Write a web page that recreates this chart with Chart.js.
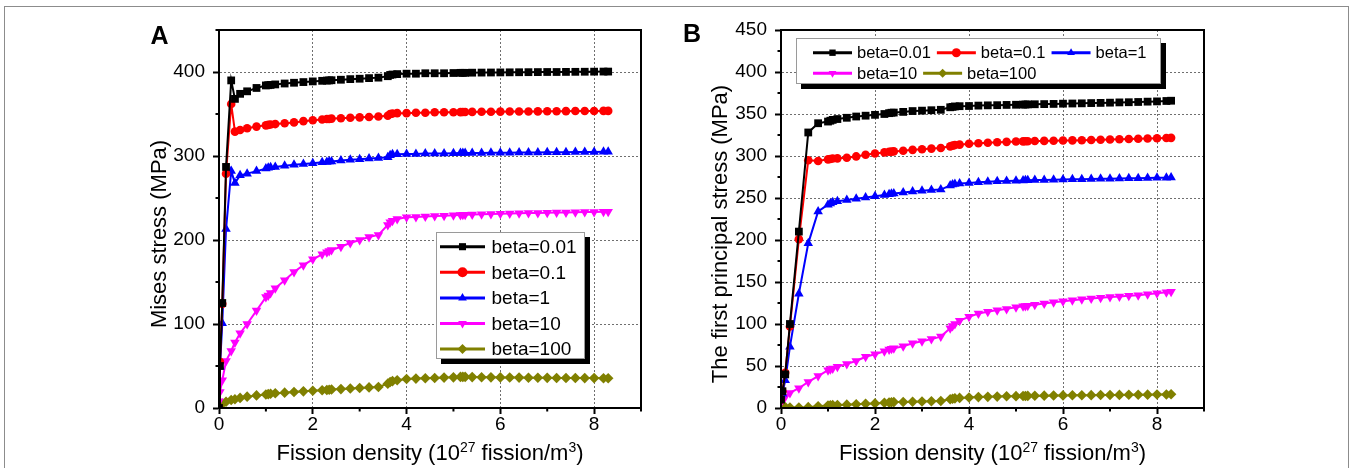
<!DOCTYPE html>
<html>
<head>
<meta charset="utf-8">
<script src="https://cdn.jsdelivr.net/npm/chart.js@4.4.1/dist/chart.umd.min.js"></script>
<style>
    html, body { margin: 0; padding: 0; background: #fff; }
    #wrap { position: relative; width: 1352px; height: 468px; overflow: hidden; }
    #frame { position: absolute; left: 4px; top: 6px; width: 1345px; height: 520px;
             border: 1px solid #8c8c8c; box-sizing: border-box; }
    canvas { position: absolute; top: 0; }
    #chartA { left: 0; }
    #chartB { left: 676px; }
</style>
</head>
<body>
<div id="wrap">
    <div id="frame"></div>
    <canvas id="chartA" width="676" height="468"></canvas>
    <canvas id="chartB" width="676" height="468"></canvas>
</div>
<script>
// =========================
// Data
// =========================

const betaLabels = ["beta=0.01", "beta=0.1", "beta=1", "beta=10", "beta=100"];

// Panel A - Mises stress (MPa)
const fissionA = [
    0, 0.02, 0.07, 0.15, 0.26, 0.34, 0.45, 0.6, 0.8, 1.0,
    1.05, 1.1, 1.2, 1.4, 1.6, 1.8, 2.0, 2.2, 2.3, 2.35,
    2.4, 2.6, 2.8, 3.0, 3.2, 3.4, 3.6, 3.65, 3.7, 3.8,
    4.0, 4.2, 4.4, 4.6, 4.8, 5.0, 5.15, 5.2, 5.25, 5.4,
    5.6, 5.8, 6.0, 6.2, 6.4, 6.6, 6.8, 7.0, 7.2, 7.4,
    7.6, 7.8, 8.0, 8.2, 8.3
];
const misesBeta001 = [
    0, 50, 125, 287, 390, 368, 374, 377, 381, 384,
    384.3, 384.6, 385.2, 386.3, 387.2, 388, 388.8, 389.5, 389.8, 390,
    390.2, 390.8, 391.5, 392, 392.7, 393.3, 395, 396.5, 397, 397.5,
    398, 398, 398.5, 398.5, 398.5, 398.8, 399, 399, 399, 399.2,
    399.3, 399.4, 399.5, 399.6, 399.7, 399.8, 399.9, 400, 400, 400.1,
    400.2, 400.3, 400.4, 400.5, 400.5
];
const misesBeta01 = [
    0, 55, 124, 279, 362, 329, 331, 333, 335, 336.5,
    337, 337.5, 338, 339, 340, 341.5, 342.5, 343.5, 344, 344,
    344.5, 345, 345.5, 346, 346.5, 347, 348, 350, 350.5, 351,
    351, 351.5, 351.5, 352, 352, 352, 352.2, 352.3, 352.3, 352.5,
    352.6, 352.7, 352.8, 352.9, 353, 353, 353.1, 353.2, 353.3, 353.4,
    353.5, 353.5, 353.6, 353.7, 353.7
];
const misesBeta1 = [
    0, 49, 101, 213, 282, 268, 277, 279, 282, 285,
    286, 286.5, 287, 288.5, 289.5, 290.5, 291.5, 292.5, 293, 293.5,
    293.5, 294.5, 295.5, 296, 297, 297.5, 298.5, 301, 302, 302,
    302.5, 302.5, 303, 303, 303, 303.2, 303.5, 303.5, 303.5, 303.6,
    303.7, 303.8, 304, 304, 304.1, 304.2, 304.3, 304.4, 304.5, 304.6,
    304.7, 304.8, 304.9, 305, 305
];
const misesBeta10 = [
    8, 19, 33, 56, 68, 78, 89, 100, 116, 132,
    134, 137, 142.5, 152, 162, 170, 177, 183, 185.5, 187,
    188, 192, 196.5, 200, 203.5, 206, 218, 221, 223, 225,
    227, 227.5, 228, 228.5, 229, 229.5, 229.8, 230, 230, 230.3,
    230.6, 231, 231.2, 231.5, 231.7, 232, 232.2, 232.4, 232.6, 232.8,
    233, 233.2, 233.4, 233.6, 233.7
];
const misesBeta100 = [
    2, 3.5, 5, 7.5, 9.5, 10.5, 12, 13.5, 15, 16,
    16.5, 17, 17.5, 18.3, 19, 19.8, 20.5, 21.2, 21.5, 21.8,
    22, 22.5, 23.2, 23.8, 24.5, 25, 29, 31, 32, 33,
    34.5, 35, 35.5, 35.8, 36.2, 36.5, 37, 37, 37, 36.8,
    36.6, 36.5, 36.4, 36.3, 36.2, 36.1, 36, 35.9, 35.8, 35.7,
    35.7, 35.6, 35.6, 35.5, 35.5
];

// Panel B - first principal stress (MPa)
const fissionB = [
    0, 0.03, 0.09, 0.19, 0.38, 0.58, 0.79, 1.0,
    1.05, 1.1, 1.2, 1.4, 1.6, 1.8, 2.0, 2.2, 2.3, 2.35,
    2.4, 2.6, 2.8, 3.0, 3.2, 3.4, 3.6, 3.65, 3.7, 3.8,
    4.0, 4.2, 4.4, 4.6, 4.8, 5.0, 5.15, 5.2, 5.25, 5.4,
    5.6, 5.8, 6.0, 6.2, 6.4, 6.6, 6.8, 7.0, 7.2, 7.4,
    7.6, 7.8, 8.0, 8.2, 8.3
];
const principalBeta001 = [
    10, 20, 40, 100, 210, 328, 339, 341,
    342, 343, 344, 345.5, 347, 348, 349, 350, 351, 351.5,
    351.7, 352.5, 353.5, 354, 354.5, 355, 358, 358.5, 359, 359.3,
    359.5, 360, 360.3, 360.5, 360.8, 361, 361.2, 361.3, 361.4, 361.6,
    361.8, 362, 362.3, 362.5, 362.7, 363, 363.2, 363.5, 363.8, 364,
    364.3, 364.7, 365, 365.5, 365.8
];
const principalBeta01 = [
    10, 20, 42, 97, 201, 295, 294, 296,
    296.5, 297, 297.2, 298, 299.5, 301.5, 303, 304.3, 305, 305.2,
    305.5, 306.3, 307.3, 308, 308.8, 309.5, 311.5, 312.3, 313, 313.5,
    314.5, 315.2, 315.8, 316.3, 316.8, 317.2, 317.4, 317.5, 317.6, 317.8,
    318, 318.2, 318.4, 318.6, 318.8, 319, 319.3, 319.6, 319.9, 320.2,
    320.5, 320.8, 321.1, 321.4, 321.6
];
const principalBeta1 = [
    15, 17, 33, 73, 136, 196, 234, 242,
    243.5, 245, 246, 247.5, 249, 250.5, 252, 253.5, 254.5, 255,
    255.3, 256.5, 257.8, 258.7, 259.5, 260, 265, 266, 266.8, 267.3,
    268, 268.7, 269.3, 269.8, 270.2, 270.6, 270.9, 271, 271.1, 271.3,
    271.5, 271.7, 272, 272.2, 272.4, 272.6, 272.8, 273, 273.2, 273.4,
    273.6, 273.8, 274, 274.2, 274.4
];
const principalBeta10 = [
    8, 9.5, 13, 18, 23.5, 31, 38, 45,
    46, 47, 49, 52.5, 56, 61, 64, 67.5, 69.5, 70.5,
    71, 73.5, 77, 79.5, 82, 85, 95, 97.5, 100, 104,
    108.5, 112.5, 114.5, 116.5, 118, 120, 121, 121.3, 121.6, 123,
    124.3, 125.8, 127, 128.3, 129.5, 130.5, 131.3, 132, 132.7, 133.5,
    134.3, 135.3, 136.5, 137.7, 138.5
];
const principalBeta100 = [
    1, 1, 1, 0.5, 0.5, 1, 2, 3,
    3.2, 3.4, 3.6, 4, 4.5, 5, 5.5, 6.2, 6.6, 6.8,
    7, 7.2, 7.5, 7.7, 8, 8.3, 10.5, 11, 11.5, 12,
    12.5, 13, 13.3, 13.6, 13.9, 14.1, 14.3, 14.3, 14.4, 14.5,
    14.7, 14.8, 15, 15.1, 15.2, 15.3, 15.4, 15.5, 15.6, 15.7,
    15.8, 15.9, 16, 16.1, 16.3
];

// =========================
// Styles
// =========================

const FONT = '"Liberation Sans", Arial, Helvetica, sans-serif';
const betaColors = ["#000000", "#ff0000", "#0000ff", "#ff00ff", "#808000"];
const betaMarkers = ["rect", "circle", "triangle", "triangle", "rectRot"];
const betaRotation = [0, 0, 0, 180, 0];
const betaRadius = [5.5, 4.3, 5.5, 5.5, 5.3];

function buildDatasets(xs, series) {
    return series.map((ys, i) => ({
        label: betaLabels[i],
        data: xs.map((x, k) => ({ x: x, y: ys[k] })),
        borderColor: betaColors[i],
        backgroundColor: betaColors[i],
        borderWidth: 2,
        pointStyle: betaMarkers[i],
        pointRotation: betaRotation[i],
        pointRadius: betaRadius[i],
        pointBorderWidth: 0,
        pointHoverRadius: betaRadius[i],
        showLine: true,
        tension: 0
    }));
}

// =========================
// Plugins
// =========================

function strokeLine(ctx, x1, y1, x2, y2) {
    ctx.beginPath();
    ctx.moveTo(x1, y1);
    ctx.lineTo(x2, y2);
    ctx.stroke();
}

// frame round the plot area + short minor ticks
const frameAndMinor = {
    id: "frameAndMinor",
    afterDraw(chart, args, o) {
        const ctx = chart.ctx;
        const a = chart.chartArea;
        const xs = chart.scales.x;
        const ys = chart.scales.y;
        ctx.save();
        ctx.strokeStyle = "#000";
        ctx.lineWidth = 2;
        ctx.strokeRect(a.left, a.top, a.right - a.left, a.bottom - a.top);
        xs.ticks.forEach(t => {
            if (t.value % o.xMajor !== 0) {
                const px = xs.getPixelForValue(t.value);
                strokeLine(ctx, px, a.bottom, px, a.bottom + 3.5);
            }
        });
        ys.ticks.forEach(t => {
            if (t.value % o.yMajor !== 0) {
                const py = ys.getPixelForValue(t.value);
                strokeLine(ctx, a.left, py, a.left - 3.5, py);
            }
        });
        ctx.restore();
    }
};

// axis titles (x title has superscripts) and panel letter
const titles = {
    id: "titles",
    afterDraw(chart, args, o) {
        const ctx = chart.ctx;
        const a = chart.chartArea;
        ctx.save();
        ctx.fillStyle = "#000";
        ctx.textBaseline = "alphabetic";

        // panel letter
        ctx.font = "bold 25px " + FONT;
        ctx.textAlign = "left";
        ctx.fillText(o.letter, o.letterX, o.letterY);

        // y title
        ctx.font = "22px " + FONT;
        ctx.save();
        ctx.translate(o.yTitleX, o.yTitleY);
        ctx.rotate(-Math.PI / 2);
        ctx.textAlign = "center";
        ctx.fillText(o.yTitle, 0, 0);
        ctx.restore();

        // x title
        const parts = o.xTitle;
        let total = 0;
        parts.forEach(p => {
            ctx.font = (p.sup ? "14px " : "22px ") + FONT;
            p.w = ctx.measureText(p.t).width;
            total += p.w;
        });
        let x = (a.left + a.right) / 2 - total / 2;
        ctx.textAlign = "left";
        parts.forEach(p => {
            ctx.font = (p.sup ? "14px " : "22px ") + FONT;
            ctx.fillText(p.t, x, p.sup ? o.xTitleY - 8 : o.xTitleY);
            x += p.w;
        });
        ctx.restore();
    }
};

// boxed legend with a black drop shadow
const boxLegend = {
    id: "boxLegend",
    afterDraw(chart, args, o) {
        const ctx = chart.ctx;
        ctx.save();
        ctx.fillStyle = "#000";
        ctx.fillRect(o.left + o.shadow, o.top + o.shadow, o.width, o.height);
        ctx.fillStyle = "#fff";
        ctx.fillRect(o.left, o.top, o.width, o.height);
        ctx.strokeStyle = "#9a9a9a";
        ctx.lineWidth = 1;
        ctx.strokeRect(o.left + 0.5, o.top + 0.5, o.width - 1, o.height - 1);

        ctx.font = o.fontSize + "px " + FONT;
        ctx.textBaseline = "middle";
        ctx.textAlign = "left";
        let x = o.startX;
        let row = 0;
        chart.data.datasets.forEach(ds => {
            const tw = ctx.measureText(ds.label).width;
            const w = o.lineLen + o.textGap + tw;
            if (x !== o.startX && x + w > o.maxRight) {
                row++;
                x = o.startX;
            }
            const y = o.firstRowY + row * o.rowGap;
            ctx.strokeStyle = ds.borderColor;
            ctx.lineWidth = o.lineWidth;
            strokeLine(ctx, x, y, x + o.lineLen, y);
            ctx.fillStyle = ds.backgroundColor;
            Chart.helpers.drawPoint(ctx, {
                pointStyle: ds.pointStyle,
                rotation: ds.pointRotation,
                radius: o.markerRadius,
                borderWidth: 0
            }, x + o.lineLen / 2, y);
            ctx.fillStyle = "#000";
            ctx.fillText(ds.label, x + o.lineLen + o.textGap, y + 1);
            x += w + o.itemGap;
        });
        ctx.restore();
    }
};

// =========================
// Chart factory
// =========================

function makeScales(xMax, xMajor, yMax, yStep, yMajor, yWidth) {
    const tickFont = { family: FONT, size: 19, lineHeight: 1 };
    return {
        x: {
            type: "linear",
            min: 0,
            max: xMax,
            ticks: {
                stepSize: 1,
                autoSkip: false,
                maxRotation: 0,
                color: "#000",
                font: tickFont,
                padding: 1,
                callback: v => (v % xMajor === 0 ? String(v) : "")
            },
            grid: {
                lineWidth: 1,
                color: c => (c.tick && c.tick.value % xMajor === 0 && c.tick.value > 0 && c.tick.value < xMax)
                    ? "#6f6f6f" : "rgba(0,0,0,0)",
                tickColor: c => (c.tick && c.tick.value % xMajor === 0) ? "#000" : "rgba(0,0,0,0)",
                tickLength: 6,
                tickWidth: 2
            },
            border: { display: true, color: "#000", width: 2, dash: [2, 2] },
            afterFit: s => { s.height = 40; }
        },
        y: {
            type: "linear",
            min: 0,
            max: yMax,
            ticks: {
                stepSize: yStep,
                autoSkip: false,
                color: "#000",
                font: tickFont,
                padding: 8,
                callback: v => (v % yMajor === 0 ? String(v) : "")
            },
            grid: {
                lineWidth: 1,
                color: c => (c.tick && c.tick.value % yMajor === 0 && c.tick.value > 0 && c.tick.value < yMax)
                    ? "#6f6f6f" : "rgba(0,0,0,0)",
                tickColor: c => (c.tick && c.tick.value % yMajor === 0) ? "#000" : "rgba(0,0,0,0)",
                tickLength: 6,
                tickWidth: 2
            },
            border: { display: true, color: "#000", width: 2, dash: [2, 2] },
            afterFit: s => { s.width = yWidth; }
        }
    };
}

const xTitleParts = [
    { t: "Fission density (10" },
    { t: "27", sup: true },
    { t: " fission/m" },
    { t: "3", sup: true },
    { t: ")" }
];

const chartA = new Chart(document.getElementById("chartA"), {
    type: "line",
    data: {
        datasets: buildDatasets(fissionA, [
            misesBeta001, misesBeta01, misesBeta1, misesBeta10, misesBeta100
        ])
    },
    options: {
        responsive: false,
        animation: false,
        devicePixelRatio: 1,
        layout: { padding: { left: 159, right: 35, top: 30, bottom: 20 } },
        scales: makeScales(9, 2, 450, 50, 100, 60),
        plugins: {
            legend: { display: false },
            tooltip: { enabled: false },
            frameAndMinor: { xMajor: 2, yMajor: 100 },
            titles: {
                letter: "A", letterX: 150.5, letterY: 43.5,
                yTitle: "Mises stress (MPa)", yTitleX: 166, yTitleY: 234,
                xTitle: xTitleParts, xTitleY: 460
            },
            boxLegend: {
                left: 436, top: 232, width: 149, height: 127, shadow: 5,
                startX: 440, maxRight: 441, firstRowY: 246.7, rowGap: 25.6,
                lineLen: 45, textGap: 6.5, itemGap: 6, lineWidth: 3,
                markerRadius: 5, fontSize: 19
            }
        }
    },
    plugins: [frameAndMinor, titles, boxLegend]
});

const chartB = new Chart(document.getElementById("chartB"), {
    type: "line",
    data: {
        datasets: buildDatasets(fissionB, [
            principalBeta001, principalBeta01, principalBeta1, principalBeta10, principalBeta100
        ])
    },
    options: {
        responsive: false,
        animation: false,
        devicePixelRatio: 1,
        layout: { padding: { left: 45, right: 148, top: 30, bottom: 20 } },
        scales: makeScales(9, 2, 450, 25, 50, 60),
        plugins: {
            legend: { display: false },
            tooltip: { enabled: false },
            frameAndMinor: { xMajor: 2, yMajor: 50 },
            titles: {
                letter: "B", letterX: 7, letterY: 42,
                yTitle: "The first principal stress (MPa)", yTitleX: 51, yTitleY: 234,
                xTitle: xTitleParts, xTitleY: 460
            },
            boxLegend: {
                left: 120, top: 38, width: 365, height: 46, shadow: 5,
                startX: 137, maxRight: 482, firstRowY: 52.7, rowGap: 20.6,
                lineLen: 39, textGap: 5, itemGap: 6, lineWidth: 3,
                markerRadius: 4.5, fontSize: 16.5
            }
        }
    },
    plugins: [frameAndMinor, titles, boxLegend]
});
</script>
</body>
</html>
